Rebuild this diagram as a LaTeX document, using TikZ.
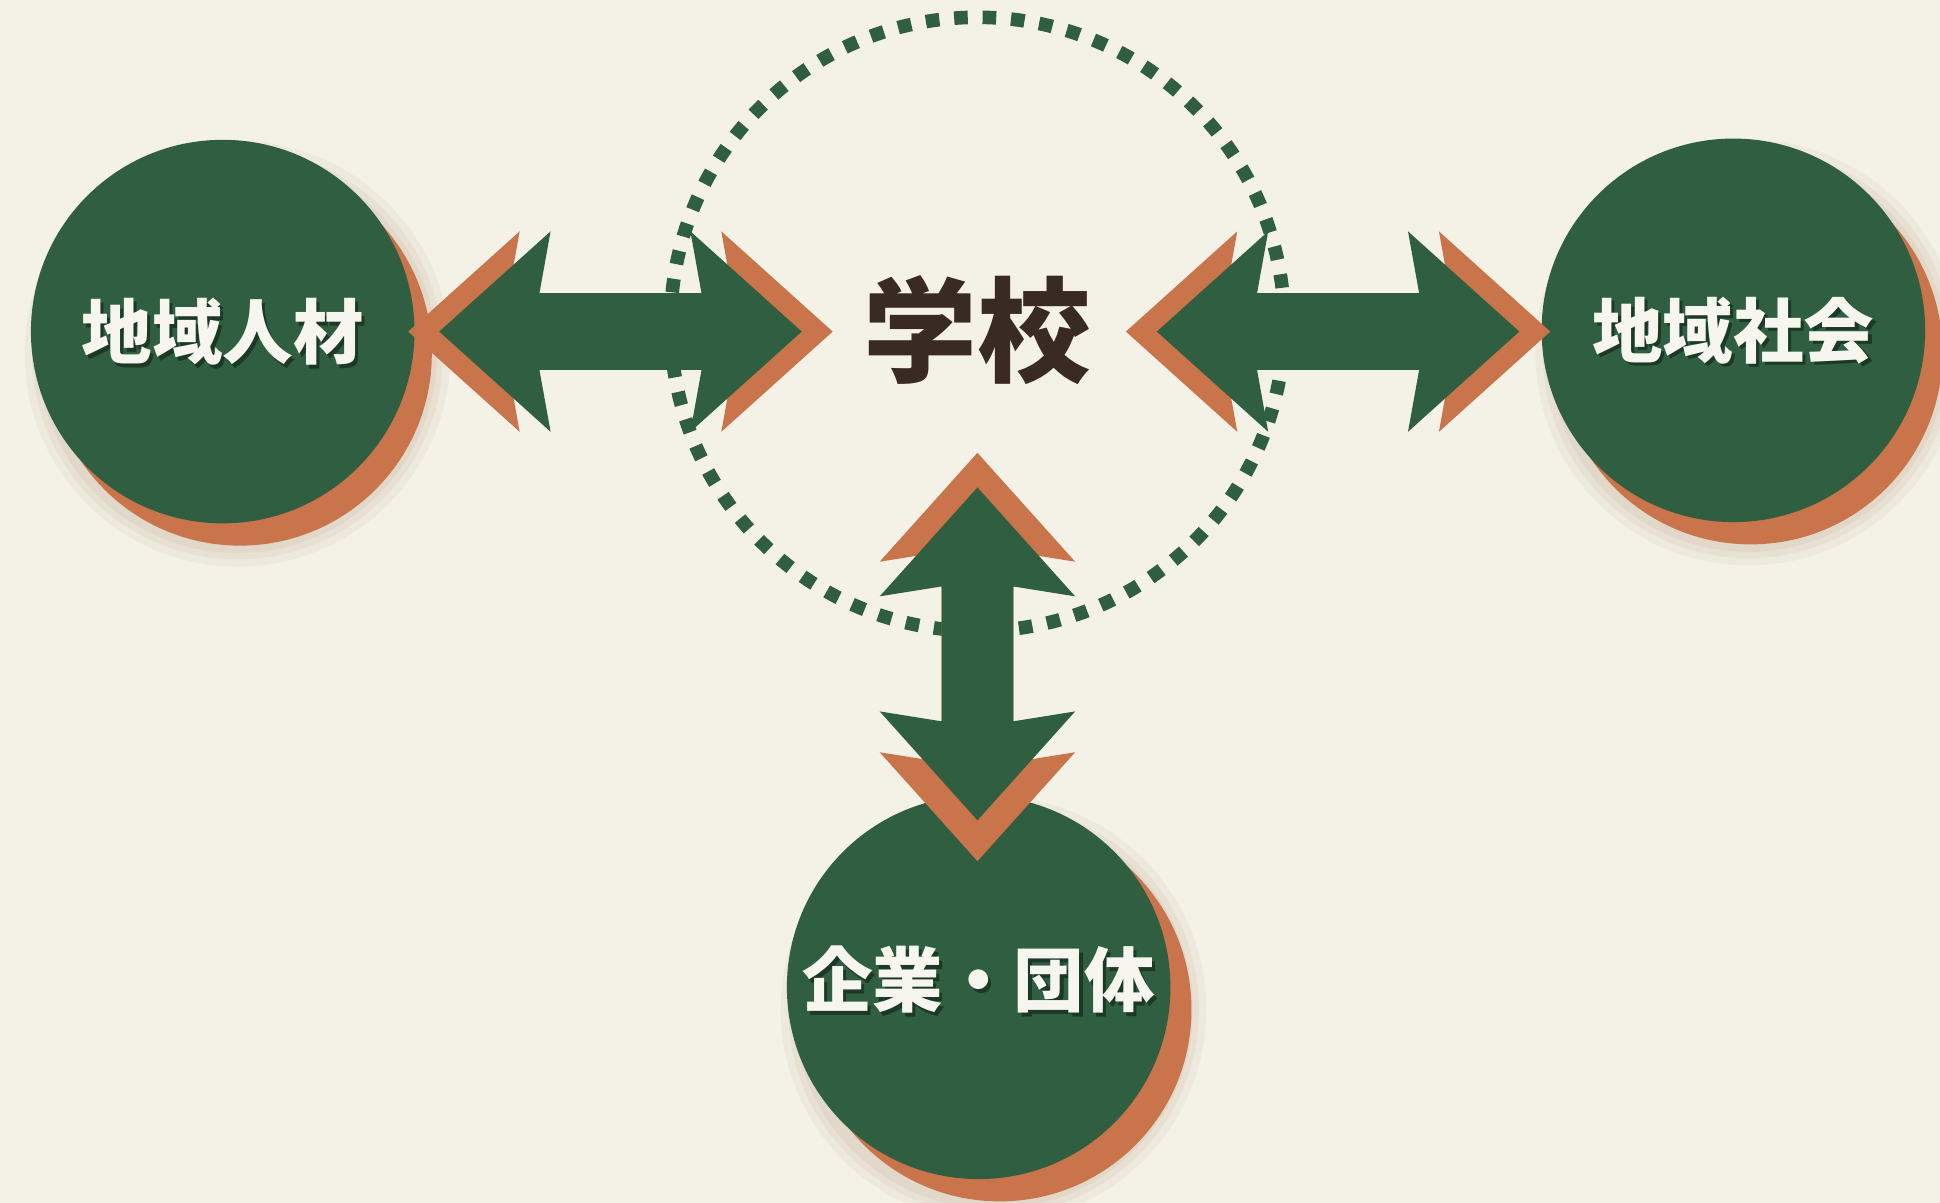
\documentclass[tikz,border=0pt]{standalone}
\usepackage{fontspec}
\newfontfamily\jpfont{Noto Sans CJK JP}
\usetikzlibrary{calc}
\definecolor{bgc}{HTML}{F4F2E6}
\definecolor{grn}{HTML}{2F5F40}
\definecolor{org}{HTML}{C9744A}
\definecolor{brn}{HTML}{3A2A24}
\definecolor{txtw}{HTML}{F6F6EE}
\newcommand\hdblarrow[3]{%
  \fill[#3] (#1) -- ($(#1)+(90,-81)$) -- ($(#1)+(81,-31)$) -- ($(#2)+(-81,-31)$) -- ($(#2)+(-90,-81)$) -- (#2)
   -- ($(#2)+(-90,81)$) -- ($(#2)+(-81,31)$) -- ($(#1)+(81,31)$) -- ($(#1)+(90,81)$) -- cycle;}
\newcommand\vdblarrow[3]{%
  \fill[#3] (#1) -- ($(#1)+(-79,88)$) -- ($(#1)+(-29,80)$) -- ($(#2)+(-29,-80)$) -- ($(#2)+(-79,-88)$) -- (#2)
   -- ($(#2)+(79,-88)$) -- ($(#2)+(29,-80)$) -- ($(#1)+(29,80)$) -- ($(#1)+(79,88)$) -- cycle;}
\newcommand\softshadow[1]{%
  \foreach \rr in {172,166,161}{\fill[org!60!black, opacity=0.05] ($(#1)+(12,18)$) circle[radius=\rr];}}
\begin{document}
\begin{tikzpicture}[x=0.5pt,y=-0.5pt,
  bubble/.style={circle, fill=grn, minimum size=155pt, inner sep=0pt, text=txtw,
    font=\jpfont\bfseries\fontsize{28.5}{30}\selectfont},
  labshadow/.style={text=black, opacity=0.4, font=\jpfont\bfseries\fontsize{28.5}{30}\selectfont},
  bubshadow/.style={fill=org},
  schooltext/.style={text=brn, font=\jpfont\bfseries\fontsize{46}{50}\selectfont},
  ring/.style={draw=grn, line width=5.5pt, dash pattern=on 5.5pt off 6pt}]
\fill[bgc] (0,0) rectangle (1568,972);
\useasboundingbox (0,0) rectangle (1568,972);
% dotted ring
\coordinate (ringc) at (790,262);
\draw[ring] (ringc) circle[radius=248];
% circle centres
\coordinate (cL) at (180,268);
\coordinate (cR) at (1401,267);
\coordinate (cB) at (791,798);
\softshadow{cL}\softshadow{cR}\softshadow{cB}
\fill[bubshadow] ($(cL)+(14,18)$) circle[radius=155];
\fill[bubshadow] ($(cR)+(14,18)$) circle[radius=155];
\fill[bubshadow] ($(cB)+(17,18)$) circle[radius=155];
\node[bubble] (jinzai) at (cL) {};
\node[bubble] (shakai) at (cR) {};
\node[bubble] (kigyo) at (cB) {};
\node[labshadow] (jinzaiS) at ($(jinzai)+(2.5,3)$) {地域人材};
\node[labshadow] (shakaiS) at ($(shakai)+(2.5,3)$) {地域社会};
\node[labshadow] (kigyoS) at ($(kigyo)+(2.5,-3)$) {企業・団体};
\node[bubble, fill=none] (jinzaiT) at (jinzai) {地域人材};
\node[bubble, fill=none] (shakaiT) at (shakai) {地域社会};
\node[bubble, fill=none] (kigyoT) at ($(kigyo)+(0,-6)$) {企業・団体};
\node[schooltext] (school) at (790,267) {学校};
% arrow end points
\coordinate (l1) at (355,268); \coordinate (l2) at (648,268);
\coordinate (r1) at (935,268); \coordinate (r2) at (1228,268);
\coordinate (b1) at (790,394); \coordinate (b2) at (790,663);
\hdblarrow{$(l1)+(-25,0)$}{$(l2)+(25,0)$}{org}
\hdblarrow{l1}{l2}{grn}
\hdblarrow{$(r1)+(-25,0)$}{$(r2)+(25,0)$}{org}
\hdblarrow{r1}{r2}{grn}
\vdblarrow{$(b1)+(0,-28)$}{$(b2)+(0,33)$}{org}
\vdblarrow{b1}{b2}{grn}
\end{tikzpicture}
\end{document}
